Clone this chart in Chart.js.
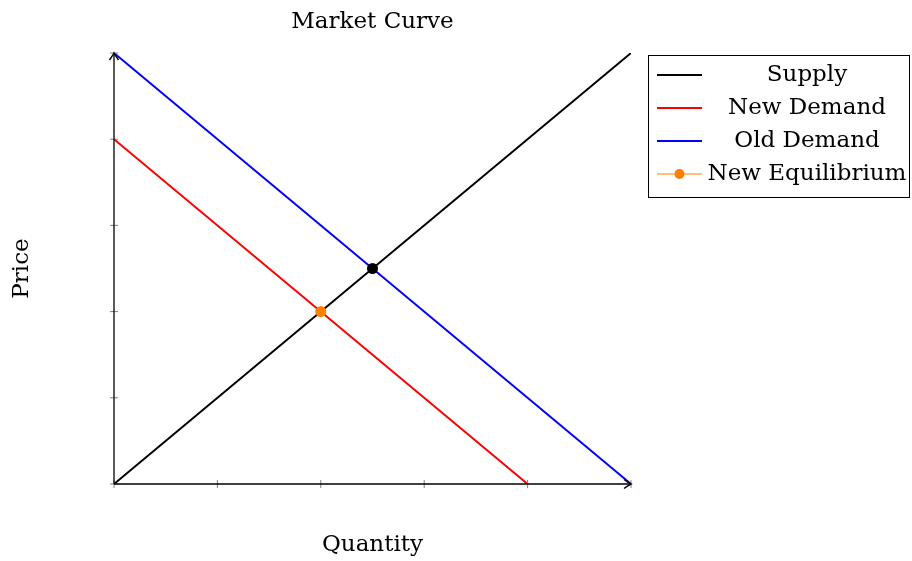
<!DOCTYPE html>
<html lang="en">
<head>
    <meta charset="UTF-8">
    <title>Market Curve</title>
    <script src="https://cdn.jsdelivr.net/npm/chart.js"></script>
    <style>
        html, body { margin: 0; padding: 0; background: #fff; }
        #box { width: 912px; height: 561px; }
    </style>
</head>
<body>
    <div id="box"><canvas id="canvasMercado"></canvas></div>

<script>
    // dados da curva de mercado
    const supplyQ = [0, 10];
    const supplyP = [0, 10];
    const newDemandQ = [0, 8];
    const newDemandP = [8, 0];
    const oldDemandQ = [0, 10];
    const oldDemandP = [10, 0];
    const newEqQ = [4];
    const newEqP = [4];
    const oldEqQ = [5];
    const oldEqP = [5];
    const tickValues = [0, 2, 4, 6, 8, 10];

    const serif = '"DejaVu Serif", "Liberation Serif", serif';

    function pts(xs, ys) {
        return xs.map((x, i) => ({ x: x, y: ys[i] }));
    }

    // eixos com setas, titulo e legenda desenhados a mao
    const desenhoExtra = {
        id: 'desenhoExtra',
        afterDraw(chart) {
            const ctx = chart.ctx;
            const x = chart.scales.x, y = chart.scales.y;
            const x0 = x.getPixelForValue(0), x1 = x.getPixelForValue(10);
            const y0 = y.getPixelForValue(0), y1 = y.getPixelForValue(10);
            ctx.save();

            // ticks
            ctx.strokeStyle = '#808080';
            ctx.lineWidth = 1;
            tickValues.forEach(v => {
                const px = x.getPixelForValue(v);
                ctx.beginPath(); ctx.moveTo(px, y0 - 4); ctx.lineTo(px, y0 + 4); ctx.stroke();
                const py = y.getPixelForValue(v);
                ctx.beginPath(); ctx.moveTo(x0 - 4, py); ctx.lineTo(x0 + 4, py); ctx.stroke();
            });

            // eixos
            ctx.strokeStyle = '#000';
            ctx.lineWidth = 1.3;
            ctx.beginPath(); ctx.moveTo(x0, y0); ctx.lineTo(x1, y0); ctx.stroke();
            ctx.beginPath(); ctx.moveTo(x0, y0); ctx.lineTo(x0, y1); ctx.stroke();
            // setas
            ctx.lineWidth = 1.5;
            ctx.beginPath();
            ctx.moveTo(x1 - 7, y0 - 4.5); ctx.quadraticCurveTo(x1 - 2, y0 - 1, x1, y0);
            ctx.quadraticCurveTo(x1 - 2, y0 + 1, x1 - 7, y0 + 4.5);
            ctx.stroke();
            ctx.beginPath();
            ctx.moveTo(x0 - 4.5, y1 + 7); ctx.quadraticCurveTo(x0 - 1, y1 + 2, x0, y1);
            ctx.quadraticCurveTo(x0 + 1, y1 + 2, x0 + 4.5, y1 + 7);
            ctx.stroke();

            // textos
            ctx.fillStyle = '#000';
            ctx.font = '23px ' + serif;
            ctx.textAlign = 'center';
            ctx.textBaseline = 'middle';
            ctx.fillText('Market Curve', (x0 + x1) / 2, 22);
            ctx.fillText('Quantity', (x0 + x1) / 2, 545);
            ctx.save();
            ctx.translate(22, (y0 + y1) / 2);
            ctx.rotate(-Math.PI / 2);
            ctx.fillText('Price', 0, 0);
            ctx.restore();

            // legenda
            ctx.strokeStyle = '#000';
            ctx.lineWidth = 1;
            ctx.strokeRect(648.5, 55.5, 261, 142);
            const itens = chart.data.datasets.filter(d => d.label);
            itens.forEach((d, i) => {
                const ly = 75 + i * 33;
                ctx.strokeStyle = d.borderColor;
                ctx.lineWidth = d.borderWidth;
                ctx.beginPath(); ctx.moveTo(657, ly); ctx.lineTo(702, ly); ctx.stroke();
                if (d.pointRadius > 0) {
                    ctx.fillStyle = d.pointBackgroundColor;
                    ctx.beginPath(); ctx.arc(679.5, ly, 5, 0, Math.PI * 2); ctx.fill();
                }
                ctx.fillStyle = '#000';
                ctx.fillText(d.label, 807, ly);
            });
            ctx.restore();
        }
    };

    const config = {
        type: 'scatter',
        data: {
            datasets: [
                {
                    label: 'Supply',
                    data: pts(supplyQ, supplyP),
                    showLine: true,
                    borderColor: '#000',
                    borderWidth: 2,
                    pointRadius: 0,
                    order: 3
                },
                {
                    label: 'New Demand',
                    data: pts(newDemandQ, newDemandP),
                    showLine: true,
                    borderColor: '#ff0000',
                    borderWidth: 2,
                    pointRadius: 0,
                    order: 4
                },
                {
                    label: 'Old Demand',
                    data: pts(oldDemandQ, oldDemandP),
                    showLine: true,
                    borderColor: '#0000ff',
                    borderWidth: 2,
                    pointRadius: 0,
                    order: 5
                },
                {
                    label: 'New Equilibrium',
                    data: pts(newEqQ, newEqP),
                    showLine: true,
                    borderColor: '#ff7f00',
                    borderWidth: 1,
                    pointRadius: 5.5,
                    pointBackgroundColor: '#ff7f00',
                    pointBorderWidth: 0,
                    order: 1
                },
                {
                    label: '',
                    data: pts(oldEqQ, oldEqP),
                    borderColor: '#000',
                    pointRadius: 5.5,
                    pointBackgroundColor: '#000',
                    pointBorderWidth: 0,
                    order: 0
                }
            ]
        },
        plugins: [desenhoExtra],
        options: {
            responsive: true,
            maintainAspectRatio: false,
            animation: false,
            layout: {
                padding: { left: 114, right: 281, top: 53, bottom: 77 }
            },
            plugins: {
                legend: { display: false },
                tooltip: { enabled: false }
            },
            scales: {
                x: { type: 'linear', min: 0, max: 10, display: false },
                y: { type: 'linear', min: 0, max: 10, display: false }
            }
        }
    };

    const grafico = new Chart(document.getElementById('canvasMercado'), config);
</script>
</body>
</html>
